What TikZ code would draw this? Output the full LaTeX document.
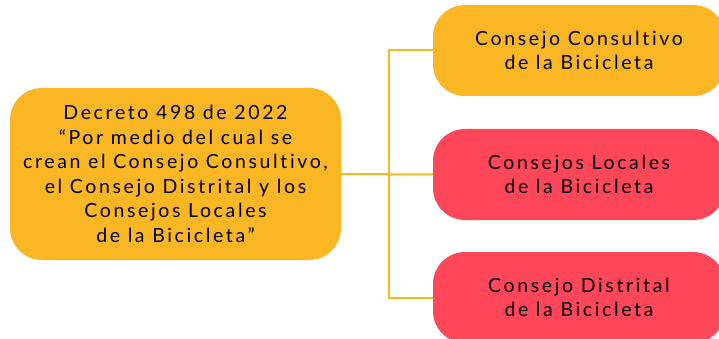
\documentclass[tikz,border=0pt]{standalone}
\usepackage{fontspec}
\setmainfont{Lato}[LetterSpace=13.5, Ligatures=NoCommon]
\usepackage{xcolor}
\usepackage{tikz}
\usetikzlibrary{calc, positioning}

\definecolor{amarillo}{HTML}{FBB624}
\definecolor{rojo}{HTML}{FF4759}

\begin{document}
\begin{tikzpicture}[x=1pt, y=-1pt,
		caja/.style={rounded corners=32pt, inner sep=0pt, align=center, text=black,
			font=\fontsize{19.5}{24.5}\selectfont},
		conector/.style={draw=amarillo, line width=2pt}]
		\useasboundingbox (0,0) rectangle (719,339);
		\clip (0,0) rectangle (719,339);

		\node[caja, fill=amarillo, minimum width=331pt, minimum height=172pt] (dec) at (175.5,174)
		{Decreto 498 de 2022\\“Por medio del cual se\\crean el Consejo Consultivo,\\el Consejo Distrital y los\\Consejos Locales\\de la Bicicleta”};

		\node[caja, fill=amarillo, minimum width=292pt, minimum height=91pt] (cons) at (579,50.5)
		{Consejo Consultivo\\de la Bicicleta};
		\node[caja, fill=rojo, minimum width=292pt, minimum height=91pt] (loc) at (579,174.5)
		{Consejos Locales\\de la Bicicleta};
		\node[caja, fill=rojo, minimum width=292pt, minimum height=91pt] (dis) at (579,297.5)
		{Consejo Distrital\\de la Bicicleta};

		\coordinate (hub) at (389,174);

		\draw[conector] (dec.east) -- (loc.west);
		\draw[conector] (cons.west) -- (cons.west -| hub) -- (dis.west -| hub) -- (dis.west);

	\end{tikzpicture}
\end{document}
